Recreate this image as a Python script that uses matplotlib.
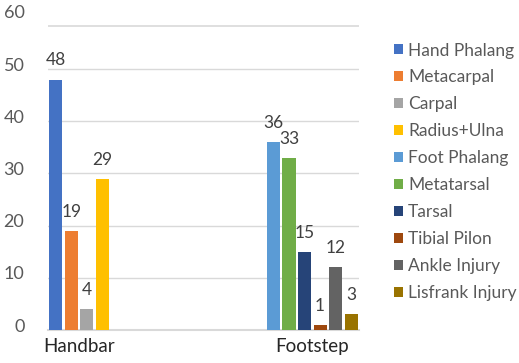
import matplotlib
matplotlib.use('Agg')
import matplotlib.pyplot as plt
import matplotlib.transforms as mtransforms

categories = ['Handbar', 'Footstep']
series = ['Hand Phalang', 'Metacarpal', 'Carpal', 'Radius+Ulna', 'Foot Phalang',
          'Metatarsal', 'Tarsal', 'Tibial Pilon', 'Ankle Injury', 'Lisfrank Injury']
group = [0, 0, 0, 0, 1, 1, 1, 1, 1, 1]
counts = [48, 19, 4, 29, 36, 33, 15, 1, 12, 3]
colors = ['#4472C4', '#ED7D31', '#A5A5A5', '#FFC000', '#5B9BD5',
          '#70AD47', '#264478', '#9E480E', '#636363', '#997300']
yticks = [0, 10, 20, 30, 40, 50, 60]

plt.rcParams['font.family'] = ['Lato', 'DejaVu Sans']

fig = plt.figure(figsize=(5.19, 3.63), dpi=100)
ax = fig.add_axes([0.0925, 0.0909, 0.5992, 0.8623])

# clustered columns: every series gets a slot in each category
nser = len(series)
for i, (name, g, v, c) in enumerate(zip(series, group, counts, colors)):
    x = g * nser + i
    bars = ax.bar(x, v, width=0.84, color=c, label=name, zorder=3)
    ax.bar_label(bars, padding=8, fontsize=12.5, color='#404040')

ax.set_xlim(-0.5, len(categories) * nser - 0.5)
ax.set_ylim(0, 60)

# category labels sit under the columns that are present
centers = []
for k in range(len(categories)):
    xs = [g * nser + i for i, g in enumerate(group) if g == k]
    centers.append((min(xs) + max(xs)) / 2)
ax.set_xticks(centers)
ax.set_xticklabels(categories, fontsize=13.5, color='#262626')
ax.tick_params(axis='x', length=0, pad=6)

ax.set_yticks(yticks)
ax.set_yticklabels([str(t) for t in yticks], fontsize=13, color='#595959')
ax.tick_params(axis='y', length=0, pad=17)
lift = mtransforms.ScaledTranslation(0, 5 / 100, fig.dpi_scale_trans)
for lab in ax.get_yticklabels():
    lab.set_transform(lab.get_transform() + lift)

for t in yticks[1:-1]:
    ax.axhline(t, color='#D9D9D9', lw=1, zorder=1)
ax.axhline(58.3, color='#D9D9D9', lw=1.2, zorder=1)

for s in ['top', 'right', 'left']:
    ax.spines[s].set_visible(False)
ax.spines['bottom'].set_color('#D9D9D9')
ax.spines['bottom'].set_linewidth(1.5)

leg = fig.legend(loc='upper left', bbox_to_anchor=(0.745, 0.902), frameon=False,
                 fontsize=12.5, handlelength=0.53, handleheight=0.53,
                 handletextpad=0.3, labelspacing=0.63, borderaxespad=0)
for t in leg.get_texts():
    t.set_color('#595959')

fig.savefig('out.png', dpi=100)
